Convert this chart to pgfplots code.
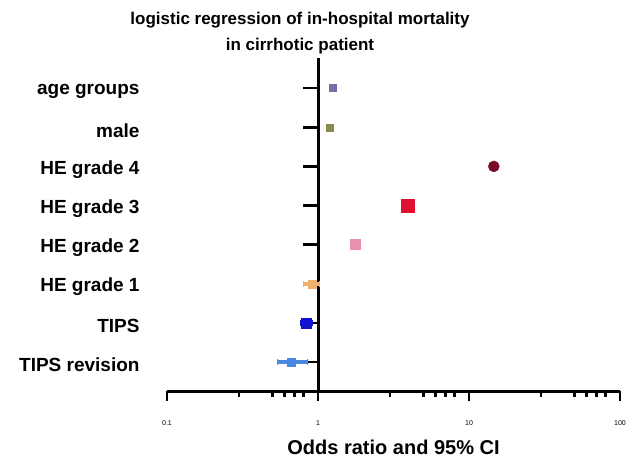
\documentclass[border=0pt]{standalone}
\usepackage{pgfplots}
\pgfplotsset{compat=1.18}
\usepackage{fontspec}
\setmainfont{Liberation Sans}
\definecolor{cage}{HTML}{7070A8}
\definecolor{cmale}{HTML}{8A8A50}
\definecolor{che4}{HTML}{7A0A28}
\definecolor{che3}{HTML}{E01030}
\definecolor{che2}{HTML}{E890AC}
\definecolor{che1}{HTML}{F0B070}
\definecolor{ctips}{HTML}{1010D0}
\definecolor{ctipsr}{HTML}{4A88E0}
\begin{document}
\begin{tikzpicture}
\useasboundingbox (0,0) rectangle (634bp,-459bp);
\node[align=center, font=\bfseries\fontsize{17bp}{26bp}\selectfont] at (300bp,-33bp)
  {logistic regression of in-hospital mortality\\in cirrhotic patient};
\begin{axis}[
  at={(167bp,-391bp)}, anchor=south west,
  scale only axis, width=453bp, height=333bp,
  xmode=log, xmin=0.1, xmax=100,
  ymin=0.26, ymax=8.77,
  axis x line=bottom, axis y line=left,
  y axis line style={draw=none},
  x axis line style={line width=3bp, -},
  xtick={0.1,1,10,100}, xticklabels={0.1,1,10,100},
  minor xtick={0.3,0.5,0.6,0.7,0.8,3,5,6,7,8,30,50,60,70,80},
  xtick style={line width=2.5bp, black},
  major tick length=10bp, minor tick length=6bp,
  tick align=outside,
  xticklabel style={font=\fontsize{7bp}{8bp}\selectfont, yshift=-16bp},
  ytick={1,2,3,4,5,6,7,8},
  yticklabels={TIPS revision, TIPS, HE grade 1, HE grade 2, HE grade 3, HE grade 4, male, age groups},
  ytick style={draw=none},
  yticklabel style={font=\bfseries\fontsize{19bp}{22bp}\selectfont, anchor=east, xshift=-14bp, yshift=-3bp},
  xlabel={Odds ratio and 95\% CI},
  xlabel style={font=\bfseries\fontsize{20bp}{24bp}\selectfont, at={(axis description cs:0.5,0)}, anchor=center, yshift=-56bp},
]
\end{axis}
\begin{axis}[
  at={(167bp,-391bp)}, anchor=south west,
  scale only axis, width=453bp, height=333bp,
  xmode=log, xmin=0.1, xmax=100,
  ymin=0.26, ymax=8.77,
  axis x line=none, axis y line=center,
  y axis line style={line width=3bp, -},
  ytick={1,2,3,4,5,6,7,8}, yticklabels={},
  ytick style={line width=2.5bp, black},
  major tick length=15bp, tick align=outside,
  clip=false,
  error bars/error bar style={line width=3.5bp},
  error bars/error mark options={rotate=90, mark size=3bp, line width=1.5bp},
]
\addplot[only marks, mark=square*, mark size=3.5bp, color=cage,
  error bars/.cd, x dir=both, x explicit, error bar style={color=cage}]
  coordinates {(1.25,8) += (0.03,0) -= (0.03,0)};
\addplot[only marks, mark=square*, mark size=3.5bp, color=cmale,
  error bars/.cd, x dir=both, x explicit, error bar style={color=cmale}]
  coordinates {(1.20,7) += (0.03,0) -= (0.03,0)};
\addplot[only marks, mark=*, mark size=5.5bp, color=che4,
  error bars/.cd, x dir=both, x explicit, error bar style={color=che4}]
  coordinates {(14.6,6) += (0.8,0) -= (0.8,0)};
\addplot[only marks, mark=square*, mark size=6.5bp, color=che3,
  error bars/.cd, x dir=both, x explicit, error bar style={color=che3}]
  coordinates {(3.95,5) += (0.2,0) -= (0.2,0)};
\addplot[only marks, mark=square*, mark size=5bp, color=che2,
  error bars/.cd, x dir=both, x explicit, error bar style={color=che2}]
  coordinates {(1.76,4) += (0.08,0) -= (0.08,0)};
\addplot[only marks, mark=square*, mark size=4bp, color=che1,
  error bars/.cd, x dir=both, x explicit, error bar style={color=che1}]
  coordinates {(0.91,3) += (0.11,0) -= (0.11,0)};
\addplot[only marks, mark=square*, mark size=5bp, color=ctips,
  error bars/.cd, x dir=both, x explicit, error bar style={color=ctips}]
  coordinates {(0.83,2) += (0.09,0) -= (0.06,0)};
\addplot[only marks, mark=square*, mark size=4bp, color=ctipsr,
  error bars/.cd, x dir=both, x explicit, error bar style={color=ctipsr}]
  coordinates {(0.66,1) += (0.19,0) -= (0.12,0)};
\end{axis}
\end{tikzpicture}
\end{document}
